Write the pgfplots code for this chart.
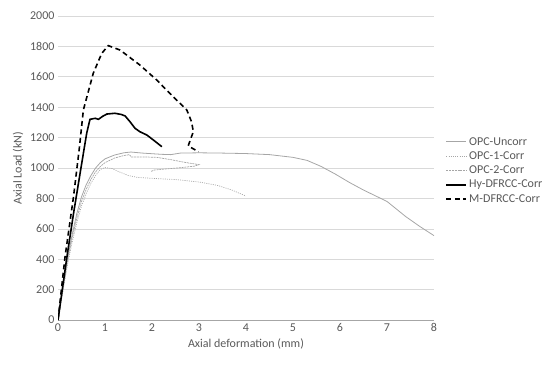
\documentclass[border=0pt]{standalone}
\usepackage{fontspec}
\setmainfont{Carlito}
\usepackage{pgfplots}
\pgfplotsset{compat=1.18}
\definecolor{txtGray}{HTML}{595959}
\definecolor{gridGray}{HTML}{D9D9D9}
\definecolor{lineGray}{HTML}{A6A6A6}

\begin{document}
\begin{tikzpicture}
\begin{axis}[
  scale only axis, width=376pt, height=304pt,
  xmin=0, xmax=8, ymin=0, ymax=2000,
  xtick={0,1,...,8}, ytick={0,200,...,2000},
  /pgf/number format/assume math mode=true,
  /pgf/number format/1000 sep={},
  ticklabel style={font=\fontsize{12}{14}\selectfont, text=txtGray},
  xlabel={Axial deformation (mm)}, ylabel={Axial Load (kN)},
  label style={font=\fontsize{12}{14}\selectfont, text=txtGray},
  axis x line*=bottom, axis y line*=left,
  x axis line style={lineGray, -},
  y axis line style={draw=none},
  ymajorgrids, grid style={gridGray, line width=0.6pt},
  major tick length=0pt,
  legend cell align=left,
  legend style={draw=none, font=\fontsize{12}{14}\selectfont, text=txtGray,
    at={(1.025,0.615)}, anchor=north west, row sep=1pt, inner sep=2pt},
  legend image code/.code={\draw[#1] (0pt,0pt) -- (20pt,0pt);},
]
% OPC-Uncorr
\addplot[lineGray, line width=0.8pt] coordinates {
(0,0) (0.1,200) (0.2,400) (0.3,560) (0.4,700) (0.5,810) (0.6,890) (0.7,950)
(0.8,1000) (0.9,1035) (1.0,1060) (1.2,1085) (1.4,1100) (1.55,1105) (1.8,1098)
(2.2,1090) (2.4,1088) (2.6,1098) (3.0,1100) (3.5,1098) (4.0,1095) (4.5,1088)
(5.0,1070) (5.3,1050) (5.6,1010) (5.9,960) (6.2,905) (6.5,855) (7.0,780)
(7.4,680) (7.7,615) (8.0,555)};
% OPC-1-Corr
\addplot[lineGray, line width=0.7pt, dash pattern=on 1pt off 1.2pt] coordinates {
(0,0) (0.1,180) (0.2,360) (0.3,510) (0.4,640) (0.5,750) (0.6,830) (0.7,900)
(0.8,950) (0.9,990) (1.0,1003) (1.15,997) (1.3,975) (1.5,950) (1.7,938)
(2.0,932) (2.5,924) (3.0,908) (3.4,885) (3.7,855) (4.0,815)};
% OPC-2-Corr
\addplot[lineGray, line width=0.7pt, dash pattern=on 2pt off 0.8pt] coordinates {
(0,0) (0.1,190) (0.2,380) (0.3,540) (0.4,670) (0.5,780) (0.6,860) (0.7,925)
(0.8,975) (0.9,1010) (1.0,1035) (1.2,1065) (1.4,1082) (1.52,1088) (1.56,1072)
(1.8,1073) (2.1,1070) (2.4,1055) (2.7,1037) (3.0,1022) (2.9,1012) (2.6,1002)
(2.3,994) (2.05,987) (1.97,976)};
% Hy-DFRCC-Corr
\addplot[black, line width=1.6pt] coordinates {
(0,0) (0.18,395) (0.33,700) (0.47,965) (0.61,1228) (0.68,1320) (0.79,1327)
(0.86,1320) (0.95,1340) (1.04,1355) (1.21,1360) (1.35,1352) (1.43,1342)
(1.53,1305) (1.64,1261) (1.74,1239) (1.89,1217) (2.03,1184) (2.21,1140)};
% M-DFRCC-Corr
\addplot[black, line width=1.6pt, dash pattern=on 5pt off 3.5pt] coordinates {
(0,0) (0.15,416) (0.33,811) (0.45,1120) (0.54,1382) (0.75,1623) (0.93,1754)
(1.07,1805) (1.32,1776) (1.74,1678) (2.1,1579) (2.45,1469) (2.74,1382)
(2.84,1305) (2.88,1239) (2.84,1206) (2.77,1145) (2.99,1107)};
\legend{OPC-Uncorr,OPC-1-Corr,OPC-2-Corr,Hy-DFRCC-Corr,M-DFRCC-Corr}
\end{axis}
\path (current axis.south west) ++(-58pt,-51pt);
\path (current axis.north east) ++(125pt,16pt);
\end{tikzpicture}
\end{document}
